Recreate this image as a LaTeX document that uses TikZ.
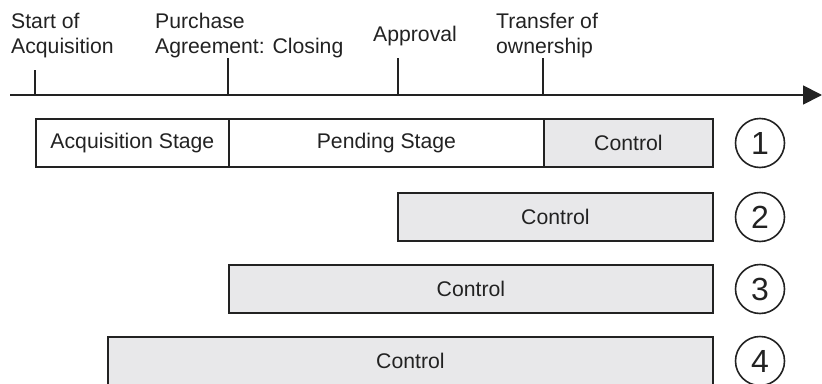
\documentclass[tikz,border=0pt]{standalone}
\usepackage{fontspec}
\setmainfont{Liberation Sans}
\usetikzlibrary{arrows.meta}
\definecolor{ink}{RGB}{34,34,34}
\definecolor{ctrlfill}{RGB}{232,232,234}
\begin{document}
\begin{tikzpicture}[x=1pt,y=-1pt,
  every node/.style={text=ink},
  lbl/.style={font=\fontsize{21.2}{25}\selectfont, inner sep=0pt, align=left, anchor=base west},
  stagebox/.style={draw=ink, line width=1.8pt, inner sep=0pt, minimum height=48pt,
    anchor=west, font=\fontsize{21.2}{25}\selectfont},
  ctrlbox/.style={stagebox, fill=ctrlfill},
  numcirc/.style={draw=ink, line width=1.6pt, circle, inner sep=0pt, minimum size=49pt,
    font=\fontsize{32}{32}\selectfont},
  tick/.style={draw=ink, line width=1.8pt}]
  \useasboundingbox (0,0) rectangle (822,383);

  % time axis
  \coordinate (axisL) at (10,95);
  \coordinate (axisR) at (822,95);
  \draw[ink, line width=1.8pt, -{Triangle[length=19pt,width=19pt]}] (axisL) -- (axisR);

  % milestones
  \coordinate (t0) at (35,95);  \coordinate (t0top) at (35,70);
  \coordinate (t1) at (228,95); \coordinate (t1top) at (228,58);
  \coordinate (t2) at (398,95); \coordinate (t2top) at (398,58);
  \coordinate (t3) at (543,95); \coordinate (t3top) at (543,58);
  \draw[tick] (t0) -- (t0top);
  \draw[tick] (t1) -- (t1top);
  \draw[tick] (t2) -- (t2top);
  \draw[tick] (t3) -- (t3top);

  % milestone labels (anchored at the baseline of their last line)
  \node[lbl] (m0) at (11,53) {Start of\\Acquisition};
  \node[lbl] (m1) at (155,53) {Purchase\\Agreement: Closing};
  \node[lbl] (m2) at (373,41) {Approval};
  \node[lbl] (m3) at (496,53) {Transfer of\\ownership};

  % scenario 1
  \node[stagebox, minimum width=193pt] (acq) at (35,143) {Acquisition Stage};
  \node[stagebox, minimum width=315pt] (pend) at (228,143) {Pending Stage};
  \node[ctrlbox, minimum width=169pt] (c1) at (543,143) {Control};
  % scenario 2
  \node[ctrlbox, minimum width=315pt] (c2) at (397,217) {Control};
  % scenario 3
  \node[ctrlbox, minimum width=484pt] (c3) at (228,289) {Control};
  % scenario 4
  \node[ctrlbox, minimum width=605pt] (c4) at (107,361) {Control};

  % scenario numbers
  \node[numcirc] (n1) at (760,143) {1};
  \node[numcirc] (n2) at (760,217) {2};
  \node[numcirc] (n3) at (760,289) {3};
  \node[numcirc] (n4) at (760,361) {4};
\end{tikzpicture}
\end{document}
